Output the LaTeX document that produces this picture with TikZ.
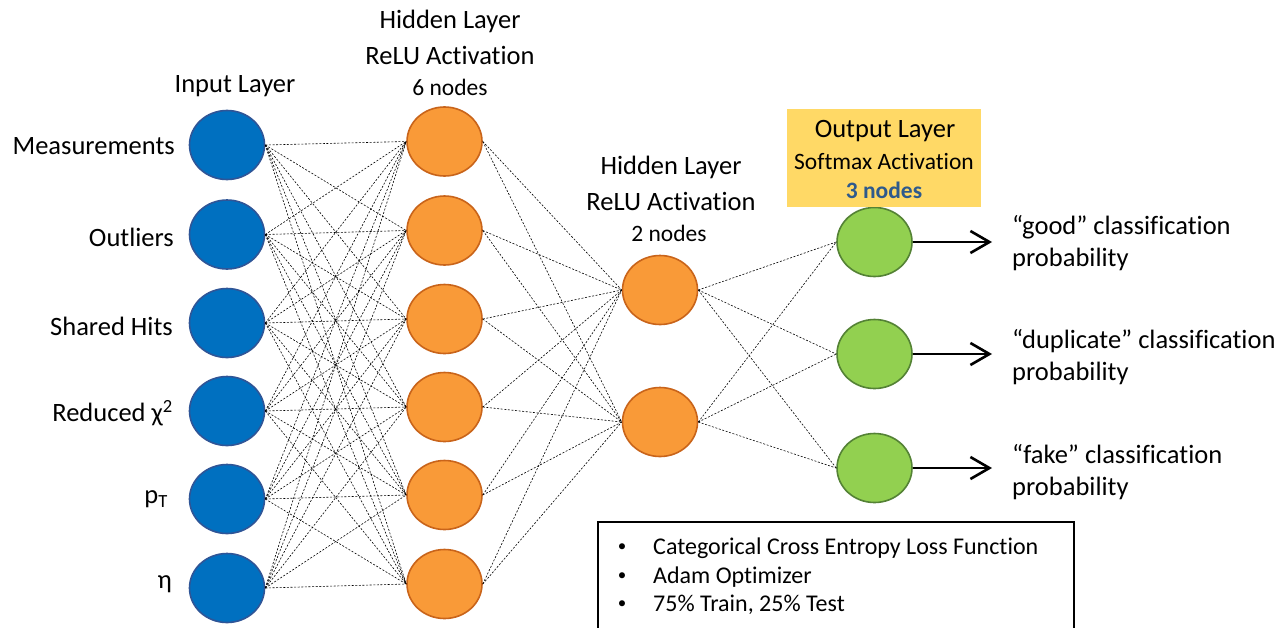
\documentclass[tikz,border=0pt]{standalone}
\usepackage{fontspec}
\setmainfont{Carlito}[Ligatures=NoCommon]
\usetikzlibrary{arrows.meta,shapes.geometric}
\definecolor{bluefill}{HTML}{0070C0}
\definecolor{blueline}{HTML}{2F5597}
\definecolor{orangefill}{HTML}{F99A38}
\definecolor{orangeline}{HTML}{C9641A}
\definecolor{greenfill}{HTML}{92D050}
\definecolor{greenline}{HTML}{548235}
\definecolor{yellowbox}{HTML}{FFD966}
\definecolor{darkbluetext}{HTML}{2E5A8C}
\begin{document}
\begin{tikzpicture}[x=1pt,y=-1pt,
  neuron/.style={ellipse,inner sep=0pt,minimum width=75pt,minimum height=69pt,line width=1.6pt},
  inp/.style={neuron,fill=bluefill,draw=blueline},
  hid/.style={neuron,fill=orangefill,draw=orangeline},
  outn/.style={neuron,fill=greenfill,draw=greenline},
  conn/.style={draw=black,line width=0.6pt,dash pattern=on 2pt off 1.6pt},
  big/.style={font=\fontsize{26.5}{32.5}\selectfont,inner sep=0pt},
  small/.style={font=\fontsize{23.5}{28}\selectfont,inner sep=0pt},
  lbl/.style={big,anchor=east},
  res/.style={big,anchor=west,align=left},
  boxtext/.style={anchor=west,font=\fontsize{24}{28}\selectfont,inner sep=0pt},
  outarrow/.style={line width=2.6pt,-{Straight Barb[length=19pt,width=22pt,line width=2.6pt]}}
]
\useasboundingbox (0,0) rectangle (1281,627);
\fill[white] (0,0) rectangle (1281,627);

% input layer
\foreach \i/\y in {1/145,2/234.5,3/323,4/411,5/499,6/588}{
  \node[inp] (i\i) at (227,\y) {};
}
% hidden layer 1
\foreach \i/\y in {1/141.5,2/230.5,3/319,4/407,5/495,6/584}{
  \node[hid] (h\i) at (444.5,\y) {};
}
% hidden layer 2
\node[hid] (g1) at (660,290) {};
\node[hid] (g2) at (660,422) {};
% output layer
\node[outn] (o1) at (874.5,242) {};
\node[outn] (o2) at (874.5,354) {};
\node[outn] (o3) at (874.5,468) {};

% connections
\foreach \i in {1,...,6}{
  \foreach \j in {1,...,6}{
    \draw[conn] (i\i.east) -- (h\j.west);
  }
  \foreach \j in {1,2}{
    \draw[conn] (h\i.east) -- (g\j.west);
  }
}
\foreach \i in {1,2}{
  \foreach \j in {1,2,3}{
    \draw[conn] (g\i.east) -- (o\j.west);
  }
}

% input labels
\node[lbl] (l1) at (175,146) {Measurements};
\node[lbl] (l2) at (174,237) {Outliers};
\node[lbl] (l3) at (173,326) {Shared Hits};
\node[lbl] (l4) at (173,413) {Reduced χ\textsuperscript{2}};
\node[lbl] (l5) at (168,499) {p\textsubscript{T}};
\node[lbl] (l6) at (172,584) {η};

% titles
\node[big] (tin) at (235,86) {Input Layer};
\node[big] (th1a) at (450,21) {Hidden Layer};
\node[big] (th1b) at (450,55) {ReLU Activation};
\node[small] (th1c) at (450,87) {6 nodes};
\node[big] (th2a) at (671,167) {Hidden Layer};
\node[big] (th2b) at (671,201) {ReLU Activation};
\node[small] (th2c) at (669,233) {2 nodes};

% output layer box
\node[fill=yellowbox,minimum width=194pt,minimum height=98pt,inner sep=0pt] (ybox) at (884,158) {};
\node[big] (to1) at (885,131) {Output Layer};
\node[small] (to2) at (884,161) {Softmax Activation};
\node[small,text=darkbluetext,font=\fontsize{23.5}{28}\selectfont\bfseries] (to3) at (884,190) {3 nodes};

% output arrows
\coordinate (a1) at (992,242);
\coordinate (a2) at (992,354);
\coordinate (a3) at (992,468);
\draw[outarrow] (o1.east) -- (a1);
\draw[outarrow] (o2.east) -- (a2);
\draw[outarrow] (o3.east) -- (a3);

\node[res,anchor=north west] (r1) at (1012,215) {“good” classification\\probability};
\node[res,anchor=north west] (r2) at (1012,329) {“duplicate” classification\\probability};
\node[res,anchor=north west] (r3) at (1012,444) {“fake” classification\\probability};

% info box
\draw[line width=1.5pt] (598,650) -- (598,522) -- (1074,522) -- (1074,650);
\node[boxtext] (b1t) at (653,548) {Categorical Cross Entropy Loss Function};
\node[boxtext] (b2t) at (653,577) {Adam Optimizer};
\node[boxtext] (b3t) at (653,605) {75\% Train, 25\% Test};
\foreach \k/\y in {1/548,2/577,3/605}{
  \node[font=\fontsize{17}{20}\selectfont,inner sep=0pt] (bb\k) at (622,\y) {\textbullet};
}
\end{tikzpicture}
\end{document}
